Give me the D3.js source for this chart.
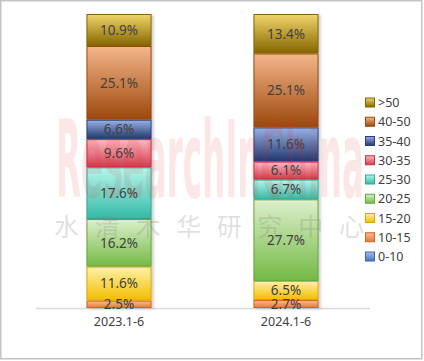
<!DOCTYPE html>
<html><head><meta charset="utf-8">
<script src="https://cdn.jsdelivr.net/npm/d3@7"></script>
<style>body{margin:0;background:#fff}svg{display:block}text{font-family:"Noto Sans","Open Sans",sans-serif}</style>
</head><body>
<svg id="c" width="424" height="361"></svg>
<script>
const categories = ["2023.1-6", "2024.1-6"];
const seriesNames = ["0-10", "10-15", "15-20", "20-25", "25-30", "30-35", "35-40", "40-50", ">50"];
const values2023 = [0, 2.5, 11.6, 16.2, 17.6, 9.6, 6.6, 25.1, 10.9];
const values2024 = [0, 2.7, 6.5, 27.7, 6.7, 6.1, 11.6, 25.1, 13.4];
const topColors = ["#a8c0f0", "#f8bc94", "#fff2a8", "#dcefcc", "#b4f6ea", "#f9bcc4", "#98b0e4", "#f4b68a", "#f0d46a"];
const bottomColors = ["#4870c4", "#e67a34", "#f2bc00", "#74ba44", "#36baa8", "#d63a4e", "#22386f", "#9c480c", "#866600"];
const strokeColors = ["#4066b0", "#d46422", "#dca800", "#62a636", "#2ea898", "#c62e42", "#2a3f80", "#98480e", "#846600"];

const svg = d3.select("#c");
const defs = svg.append("defs");
seriesNames.forEach((s, i) => {
  const g = defs.append("linearGradient").attr("id", "g" + i).attr("x1", 0).attr("y1", 0).attr("x2", 0).attr("y2", 1);
  g.append("stop").attr("offset", "0%").attr("stop-color", topColors[i]);
  g.append("stop").attr("offset", "100%").attr("stop-color", bottomColors[i]);
});
const f = defs.append("filter").attr("id", "sh").attr("x", "-20%").attr("y", "-20%").attr("width", "140%").attr("height", "140%");
f.append("feDropShadow").attr("dx", 2).attr("dy", 1).attr("stdDeviation", 1.8).attr("flood-color", "#000").attr("flood-opacity", 0.2);

svg.append("rect").attr("x", 0.75).attr("y", 0.75).attr("width", 421).attr("height", 358)
  .attr("fill", "#fff").attr("stroke", "#c4c4c4").attr("stroke-width", 1.5);

const rows = categories.map((c, j) => {
  const o = {cat: c};
  const vals = j === 0 ? values2023 : values2024;
  seriesNames.forEach((s, i) => o[s] = vals[i]);
  return o;
});
const stacked = d3.stack().keys(seriesNames).offset(d3.stackOffsetExpand)(rows);

const x = d3.scaleBand().domain(categories).range([35.5, 369.5]).paddingInner(0.61).paddingOuter(0.305);
const y = d3.scaleLinear().domain([0, 1]).range([308, 14]);

// axis
const xAxis = d3.axisBottom(x).tickSize(0).tickPadding(9);
const ax = svg.append("g").attr("transform", "translate(0,308)").call(xAxis);
ax.select(".domain").attr("stroke", "#d9d9d9").attr("stroke-width", 1.5);
ax.selectAll("text").attr("fill", "#404040").style("font-size", "12.5px").style("font-family", '"Noto Sans",sans-serif');

const bars = svg.append("g").attr("filter", "url(#sh)");
stacked.forEach((layer, i) => {
  bars.selectAll(null).data(layer.filter(d => d[1] - d[0] > 0)).join("rect")
    .attr("x", d => x(d.data.cat) + 0.5)
    .attr("y", d => y(d[1]) + 0.5)
    .attr("width", x.bandwidth() - 1)
    .attr("height", d => Math.max(0, y(d[0]) - y(d[1]) - 1))
    .attr("fill", "url(#g" + i + ")")
    .attr("stroke", strokeColors[i]).attr("stroke-width", 1);
});

// labels
const labels = svg.append("g");
stacked.forEach((layer, i) => {
  labels.selectAll(null).data(layer.filter(d => d[1] - d[0] > 0)).join("text")
    .attr("x", d => x(d.data.cat) + x.bandwidth() / 2)
    .attr("y", d => (y(d[0]) + y(d[1])) / 2)
    .attr("dy", "0.36em")
    .attr("text-anchor", "middle")
    .attr("fill", "#404040")
    .style("font-size", "13.5px")
    .text(d => d.data[layer.key].toFixed(1) + "%");
});

// watermark
svg.append("text").attr("transform", "translate(56,197) scale(1,2.15)")
  .attr("textLength", 308).attr("lengthAdjust", "spacingAndGlyphs")
  .style("font-family", '"Liberation Sans Narrow","DejaVu Sans Condensed",sans-serif')
  .style("font-weight", "bold").style("font-size", "50px")
  .attr("fill", "#e02020").attr("fill-opacity", 0.11)
  .text("ResearchInChina");
svg.append("text").attr("x", 54).attr("y", 236)
  .attr("textLength", 310).attr("lengthAdjust", "spacing")
  .style("font-family", '"Noto Sans CJK SC",sans-serif')
  .style("font-size", "25px")
  .attr("fill", "#808080").attr("fill-opacity", 0.25)
  .text("水清木华研究中心");

// legend
const legend = svg.append("g");
const order = seriesNames.slice().reverse();
order.forEach((s, k) => {
  const i = seriesNames.indexOf(s);
  const yy = 102.5 + k * 19.25;
  legend.append("rect").attr("x", 365.5).attr("y", yy - 4.5).attr("width", 9).attr("height", 9)
    .attr("fill", "url(#g" + i + ")").attr("stroke", strokeColors[i]).attr("stroke-width", 1);
  legend.append("text").attr("x", 378).attr("y", yy).attr("dy", "0.36em")
    .attr("fill", "#404040").style("font-size", "12.5px").text(s);
});
</script>
</body></html>
